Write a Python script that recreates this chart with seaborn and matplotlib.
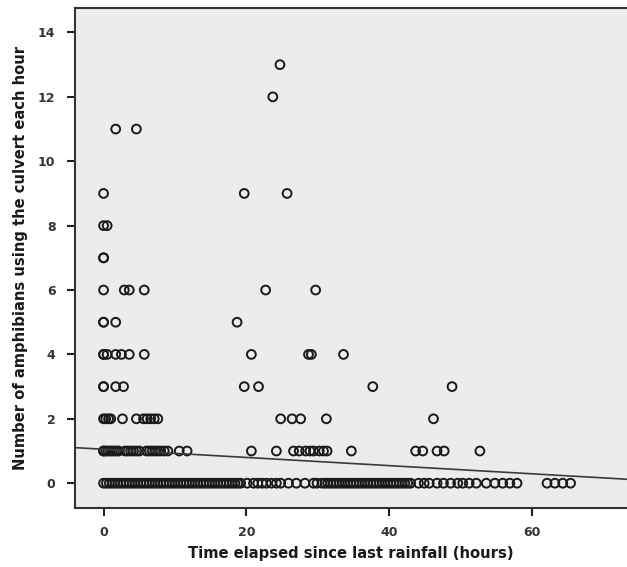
import matplotlib
matplotlib.use("Agg")
import matplotlib.pyplot as plt
import seaborn as sns
import pandas as pd
import numpy as np

# ---- data ----
x_count0 = [0, 0.4, 0.8, 1.2, 1.6, 2.0, 2.4, 2.8, 3.2, 3.6, 4.0, 4.4, 4.8, 5.2, 5.6, 6.0,
            6.4, 6.8, 7.2, 7.6, 8.0, 8.4, 8.8, 9.2, 9.6, 10.0, 10.4, 10.8, 11.2, 11.6, 12.0,
            12.4, 12.8, 13.2, 13.6, 14.0, 14.4, 14.8, 15.2, 15.6, 16.0, 16.4, 16.8, 17.2,
            17.6, 18.0, 18.4, 18.8, 19.2,
            20.1, 21.0, 21.6, 22.2, 22.8, 23.5, 24.2, 24.8, 25.9, 27.0, 28.2, 29.4, 29.9,
            30.6, 31.0, 31.4, 31.8, 32.2, 32.6, 33.0, 33.4, 33.8, 34.2, 34.6, 35.0, 35.4,
            35.8, 36.2, 36.6, 37.0, 37.4, 37.8, 38.2, 38.6, 39.0, 39.4, 39.8, 40.2, 40.6,
            41.0, 41.4, 41.8, 42.2, 42.6, 43.0,
            44.1, 44.9, 45.6, 46.7, 47.6, 48.6, 49.6, 50.3, 51.2, 52.2,
            53.6, 54.8, 55.9, 56.9, 57.9, 62.1, 63.2, 64.3, 65.4]
x_count1 = [0, 0, 0.3, 0.6, 0.9, 1.2, 1.5, 1.8, 2.1, 3.0, 3.4, 3.8, 4.2, 4.6, 5.0,
            6.0, 6.4, 6.8, 7.2, 7.6, 8.0, 8.5, 9.0, 10.6, 11.7,
            20.7, 24.2, 26.6, 27.4, 28.3, 28.9, 29.4, 30.2, 30.8, 31.3, 34.7,
            43.7, 44.7, 46.7, 47.7, 52.7]
x_count2 = [0, 0.3, 0.7, 1.0, 2.65, 4.6, 5.6, 6.1, 6.6, 7.1, 7.6,
            24.8, 26.4, 27.6, 31.2, 46.2]
x_count3 = [0, 0, 1.7, 2.8, 19.7, 21.7, 37.7, 48.8]
x_count4 = [0, 0, 0.5, 1.7, 2.5, 3.6, 5.7, 20.7, 28.7, 29.1, 33.6]
x_count5 = [0, 0, 1.7, 18.7]
x_count6 = [0, 2.9, 3.6, 5.7, 22.7, 29.7]
x_count7 = [0, 0]
x_count8 = [0, 0.5]
x_count9 = [0, 19.7, 25.7]
x_count11 = [1.7, 4.6]
x_count12 = [23.7]
x_count13 = [24.7]

fit_intercept = 1.054
fit_slope = -0.0127

x_ticks = [0, 20, 40, 60]
y_ticks = [0, 2, 4, 6, 8, 10, 12, 14]
x_label = "Time elapsed since last rainfall (hours)"
y_label = "Number of amphibians using the culvert each hour"

groups = {0: x_count0, 1: x_count1, 2: x_count2, 3: x_count3, 4: x_count4,
          5: x_count5, 6: x_count6, 7: x_count7, 8: x_count8, 9: x_count9,
          11: x_count11, 12: x_count12, 13: x_count13}
rows = [(x, c) for c, xs in groups.items() for x in xs]
df = pd.DataFrame(rows, columns=["hours", "count"])

# ---- plot ----
sns.set_style("white")
plt.rcParams["font.family"] = ["DejaVu Sans"]

fig = plt.figure(figsize=(6.27, 5.67), dpi=100)
ax = fig.add_axes([0.1196, 0.1035, 0.8804, 0.8824])
ax.set_facecolor("#ececec")

sns.scatterplot(data=df, x="hours", y="count", ax=ax, marker="o", s=40,
                facecolor="none", edgecolor="#1a1a1a", linewidth=1.4, legend=False)

xlim = (-4.0, 73.3)
ax.set_xlim(*xlim)
ax.set_ylim(-0.78, 14.76)
line_x = np.array(xlim)
sns.lineplot(x=line_x, y=fit_intercept + fit_slope * line_x, ax=ax,
             color="#3a3a3a", linewidth=1.2)

ax.set_xticks(x_ticks)
ax.set_yticks(y_ticks)
ax.tick_params(axis="both", direction="out", length=6, width=1.5,
               labelsize=9, colors="#222222",
               bottom=True, left=True, top=False, right=False)
ax.tick_params(axis="y", pad=8)
ax.tick_params(axis="x", pad=7)
for lbl in ax.get_xticklabels() + ax.get_yticklabels():
    lbl.set_fontweight("bold")
    lbl.set_color("#333333")

for side in ["left", "bottom", "top"]:
    ax.spines[side].set_visible(True)
    ax.spines[side].set_color("#333333")
    ax.spines[side].set_linewidth(1.5)
ax.spines["right"].set_visible(False)

ax.set_xlabel(x_label, fontsize=10.6, fontweight="bold", color="#1a1a1a", labelpad=5)
ax.set_ylabel(y_label, fontsize=10.6, fontweight="bold", color="#1a1a1a", labelpad=7)

fig.savefig("out.png", dpi=100)
